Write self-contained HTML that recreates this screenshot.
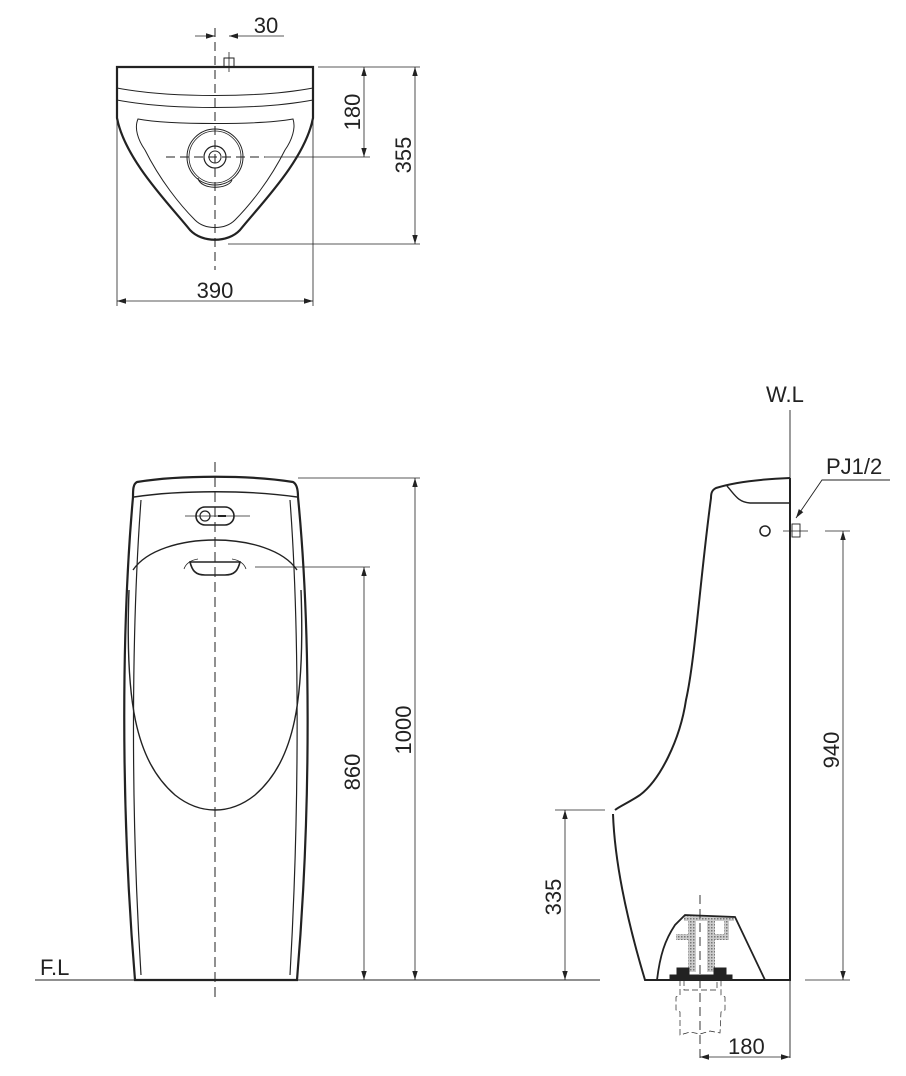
<!DOCTYPE html>
<html><head><meta charset="utf-8"><style>html,body{margin:0;padding:0;background:#fff}svg{display:block}text{font-family:"Liberation Sans",sans-serif;font-size:22px;fill:#222}</style></head>
<body>
<svg width="906" height="1076" viewBox="0 0 906 1076" xmlns="http://www.w3.org/2000/svg">
<defs>
<marker id="a" viewBox="0 0 10 10" refX="10" refY="5" markerWidth="9" markerHeight="9" orient="auto-start-reverse" markerUnits="userSpaceOnUse"><path d="M0,2 L10,5 L0,8 z" fill="#222"/></marker>
<pattern id="h" width="3" height="3" patternUnits="userSpaceOnUse"><rect width="3" height="3" fill="#ccc"/><rect width="1.5" height="1.5" fill="#777"/></pattern>
</defs>
<g fill="none" stroke="#222">
<!-- TOP VIEW -->
<path d="M117,67 L313,67 L313,118 C305,160 260,205 240,230 C228,243 202,243 190,230 C170,205 125,160 117,118 Z" stroke-width="2.2"/>
<path d="M117,88 C170,98 260,98 313,88" stroke-width="1"/>
<path d="M117,100 C170,110 260,110 313,100" stroke-width="1"/>
<path d="M138,119 C170,125 260,125 293,119 C296,128 292,140 285,150 C270,180 250,205 235,220 C225,230 205,230 195,220 C180,205 160,180 145,150 C138,140 134,128 138,119 Z" stroke-width="1"/>
<circle cx="215" cy="157" r="28" stroke-width="1"/>
<circle cx="215" cy="157" r="26" stroke-width="0.8"/>
<circle cx="215" cy="157" r="11" stroke-width="1.2"/>
<circle cx="215" cy="157" r="6" stroke-width="1"/>
<path d="M198,178 C200,190 228,190 232,180" stroke-width="1"/>
<rect x="224" y="58" width="10" height="9" stroke-width="1"/>
<line x1="229" y1="52" x2="229" y2="72" stroke-width="0.8"/>
<line x1="215" y1="28" x2="215" y2="270" stroke-width="1" stroke-dasharray="9,5"/>
<line x1="166" y1="157" x2="265" y2="157" stroke-width="1" stroke-dasharray="9,5"/>
<line x1="265" y1="157" x2="370" y2="157" stroke-width="0.8"/>
<line x1="195" y1="36" x2="215" y2="36" stroke-width="0.8" marker-end="url(#a)"/>
<line x1="284" y1="36" x2="229" y2="36" stroke-width="0.8" marker-end="url(#a)"/>
<line x1="318" y1="67" x2="420" y2="67" stroke-width="0.8"/>
<line x1="364" y1="67" x2="364" y2="157" stroke-width="0.8" marker-start="url(#a)" marker-end="url(#a)"/>
<line x1="228" y1="244" x2="420" y2="244" stroke-width="0.8"/>
<line x1="415" y1="67" x2="415" y2="244" stroke-width="0.8" marker-start="url(#a)" marker-end="url(#a)"/>
<line x1="117" y1="67" x2="117" y2="306" stroke-width="0.8"/>
<line x1="313" y1="67" x2="313" y2="306" stroke-width="0.8"/>
<line x1="117" y1="301" x2="313" y2="301" stroke-width="0.8" marker-start="url(#a)" marker-end="url(#a)"/>

<!-- FRONT VIEW -->
<path d="M137,482 C180,475 250,475 293,482 C297,484 298,490 298,497 C310,620 312,800 297,980 L135,980 C120,800 122,620 133,497 C133,490 133,484 137,482 Z" stroke-width="2.2"/>
<path d="M134,497 C180,490 250,490 297,497" stroke-width="1.4"/>
<path d="M141,500 C132,620 130,800 141,975" stroke-width="1.2"/>
<path d="M290,500 C299,620 300,800 290,975" stroke-width="1.2"/>
<path d="M133,570 C160,530 270,530 297,570" stroke-width="1.4"/>
<path d="M129,590 C125,700 135,760 175,795 C200,815 230,815 255,795 C295,760 305,700 301,590" stroke-width="1.4"/>
<rect x="196" y="507" width="38" height="18" rx="9" stroke-width="1.6"/>
<circle cx="205" cy="516" r="5" stroke-width="1.2"/>
<line x1="218" y1="516" x2="226" y2="516" stroke-width="2"/>
<path d="M190,562 C192,570 195,575 205,575 L225,575 C235,575 238,570 240,562 Z" stroke-width="1.6"/>
<path d="M184,569 C186,563 192,560 198,559 M246,569 C244,563 238,560 232,559" stroke-width="0.8"/>
<line x1="185" y1="516" x2="250" y2="516" stroke-width="0.8"/>
<line x1="215" y1="462" x2="215" y2="1002" stroke-width="1" stroke-dasharray="10,5"/>
<line x1="298" y1="478" x2="420" y2="478" stroke-width="0.8"/>
<line x1="415" y1="478" x2="415" y2="980" stroke-width="0.8" marker-start="url(#a)" marker-end="url(#a)"/>
<line x1="255" y1="567" x2="370" y2="567" stroke-width="0.8"/>
<line x1="364" y1="567" x2="364" y2="980" stroke-width="0.8" marker-start="url(#a)" marker-end="url(#a)"/>
<line x1="35" y1="980" x2="600" y2="980" stroke-width="0.9"/>

<!-- SIDE VIEW -->
<line x1="790" y1="410" x2="790" y2="1058" stroke-width="0.9"/>
<path d="M790,478 C765,479 735,482 716,488 C712,490 711,493 711,498 C700,580 695,660 686,700 C680,740 660,780 640,795 C628,803 620,806 615,810" stroke-width="2"/>
<path d="M613,814 C615,870 630,930 645,980 L790,980 L790,478" stroke-width="2"/>
<path d="M727,486 C735,495 738,502 750,503 L790,503" stroke-width="1.4"/>
<circle cx="765" cy="531" r="5" stroke-width="1.5"/>
<rect x="792" y="524" width="8" height="13" stroke-width="0.9"/>
<line x1="783" y1="531" x2="808" y2="531" stroke-width="0.8"/>
<line x1="825" y1="531" x2="850" y2="531" stroke-width="0.8"/>
<line x1="843" y1="531" x2="843" y2="980" stroke-width="0.8" marker-start="url(#a)" marker-end="url(#a)"/>
<line x1="805" y1="980" x2="850" y2="980" stroke-width="0.8"/>
<polyline points="890,480 822,480 796,518" stroke-width="0.9" marker-end="url(#a)"/>
<line x1="555" y1="810" x2="605" y2="810" stroke-width="0.8"/>
<line x1="565" y1="810" x2="565" y2="980" stroke-width="0.8" marker-start="url(#a)" marker-end="url(#a)"/>
<!-- drain -->
<g fill="url(#h)" stroke="none">
<rect x="688" y="918" width="8" height="54"/>
<rect x="707" y="918" width="8" height="54"/>
<rect x="684" y="916" width="50" height="5"/>
<rect x="676" y="934" width="12" height="6"/>
<rect x="715" y="934" width="14" height="6"/>
<rect x="724" y="920" width="5" height="18"/>
</g>
<path d="M657,980 C660,955 665,940 675,925 L685,915 L735,917 L765,980" stroke-width="1.8"/>
<rect x="677" y="968" width="12" height="7" fill="#222"/>
<rect x="714" y="968" width="12" height="7" fill="#222"/>
<rect x="670" y="975" width="62" height="5" fill="#222"/>
<path d="M680,980 L680,995 L676,997 L676,1010 L680,1012 L680,1035 L690,1032 L700,1034 L710,1031 L720,1033 L721,1012 L725,1010 L725,997 L721,995 L721,980 M684,980 L684,990 L717,990 L717,980" stroke-width="0.7" stroke-dasharray="6,3"/>
<line x1="700" y1="895" x2="700" y2="1060" stroke-width="0.9" stroke-dasharray="9,5"/>
<line x1="700" y1="1057" x2="790" y2="1057" stroke-width="0.8" marker-start="url(#a)" marker-end="url(#a)"/>
</g>
<text x="266" y="33" text-anchor="middle">30</text>
<text x="215" y="298" text-anchor="middle">390</text>
<text transform="translate(360,112) rotate(-90)" text-anchor="middle">180</text>
<text transform="translate(411,155) rotate(-90)" text-anchor="middle">355</text>
<text transform="translate(411,730) rotate(-90)" text-anchor="middle">1000</text>
<text transform="translate(360,772) rotate(-90)" text-anchor="middle">860</text>
<text transform="translate(561,897) rotate(-90)" text-anchor="middle">335</text>
<text transform="translate(839,750) rotate(-90)" text-anchor="middle">940</text>
<text x="40" y="975">F.L</text>
<text x="766" y="402">W.L</text>
<text x="826" y="474">PJ1/2</text>
<text x="728" y="1054">180</text>
</svg>
</body></html>
